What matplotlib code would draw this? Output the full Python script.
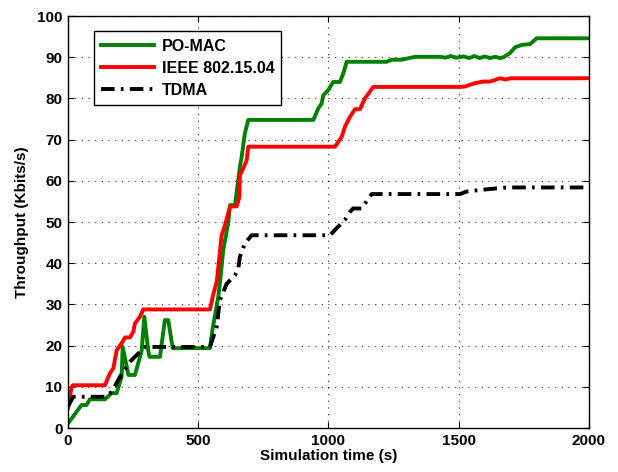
import matplotlib
matplotlib.use('Agg')
import matplotlib.pyplot as plt

plt.rcParams['font.family'] = ['Liberation Sans', 'DejaVu Sans']
plt.rcParams['font.weight'] = 'bold'

# values
pomac_t = [0, 52, 71, 84, 142, 168, 187, 206, 210, 232, 257, 270, 283, 293, 308, 313, 353,
           372, 385, 402, 545, 555, 577, 583, 596, 615, 622, 641, 660, 667, 679, 692, 942,
           961, 974, 980, 999, 1018, 1044, 1057, 1070, 1223, 1243, 1280, 1332, 1428, 1450,
           1470, 1490, 1520, 1540, 1560, 1580, 1600, 1620, 1640, 1660, 1671, 1697, 1716,
           1742, 1774, 1799, 2000]
pomac_y = [1.1, 5.6, 5.6, 7.0, 7.0, 8.5, 8.5, 12.5, 19.7, 12.9, 12.9, 15.8, 18.9, 27.0, 18.9,
           17.3, 17.3, 26.2, 26.2, 19.4, 19.4, 24.0, 31.9, 35.0, 43.2, 49.7, 54.1, 54.1, 63.4,
           65.9, 71.5, 74.8, 74.8, 77.6, 78.8, 80.8, 82.0, 84.0, 84.0, 86.1, 88.9, 88.9, 89.4,
           89.4, 90.1, 90.1, 89.9, 90.3, 89.9, 90.2, 89.8, 90.3, 89.8, 90.2, 89.8, 90.1, 89.8,
           90.0, 91.0, 92.4, 93.0, 93.2, 94.6, 94.6]

ieee_t = [0, 14, 20, 142, 161, 174, 187, 206, 219, 238, 251, 257, 276, 289, 545, 558, 571,
          590, 603, 615, 622, 648, 658, 660, 673, 686, 692, 1025, 1051, 1063, 1083, 1102,
          1121, 1140, 1172, 1505, 1524, 1556, 1569, 1595, 1620, 1640, 1658, 1680, 1700, 2000]
ieee_y = [4.9, 10.0, 10.4, 10.4, 13.3, 14.5, 18.9, 20.6, 22.0, 22.0, 23.4, 25.4, 27.0, 28.8,
          28.8, 32.5, 35.5, 46.8, 49.3, 52.1, 53.8, 53.8, 56.1, 61.4, 63.0, 65.0, 68.3, 68.3,
          70.7, 73.1, 75.6, 77.4, 77.4, 80.0, 82.8, 82.8, 82.9, 83.6, 83.8, 84.1, 84.1, 84.5,
          84.9, 84.6, 84.9, 84.9]

tdma_t = [0, 20, 142, 168, 200, 238, 276, 296, 545, 571, 583, 609, 641, 654, 660, 679, 705,
          1006, 1031, 1063, 1083, 1095, 1127, 1166, 1505, 1530, 1582, 1684, 2000]
tdma_y = [5.2, 7.6, 7.6, 8.8, 12.5, 16.1, 18.5, 19.7, 19.7, 24.6, 31.0, 35.0, 37.1, 38.8,
          41.6, 44.8, 46.8, 46.8, 48.5, 50.5, 52.5, 53.3, 53.3, 56.8, 56.8, 57.4, 57.8, 58.4,
          58.4]

labels = ['PO-MAC', 'IEEE 802.15.04', 'TDMA']

fig = plt.figure(figsize=(6.18, 4.72), dpi=100)
ax = fig.add_axes([0.110, 0.093, 0.843, 0.873])

ax.plot(pomac_t, pomac_y, color='#008000', lw=2.8, label=labels[0])
ax.plot(ieee_t, ieee_y, color='#ff0000', lw=2.8, label=labels[1])
ax.plot(tdma_t, tdma_y, color='black', lw=2.8, linestyle=(0, (3.5, 1.6, 0.7, 1.6)),
        label=labels[2])

ax.set_xlim(0, 2000)
ax.set_ylim(0, 100)
ax.set_xticks(range(0, 2001, 500))
ax.set_yticks(range(0, 101, 10))
ax.tick_params(direction='in', labelsize=11, length=4, top=True, right=True, pad=4)
for lab in ax.get_xticklabels() + ax.get_yticklabels():
    lab.set_fontweight('bold')
ax.grid(True, linestyle=(0, (1, 5)), color='#222222', lw=0.8)
for s in ax.spines.values():
    s.set_linewidth(1.0)

ax.set_xlabel('Simulation time (s)', fontsize=11, fontweight='bold', labelpad=1)
ax.set_ylabel('Throughput (Kbits/s)', fontsize=11, fontweight='bold', labelpad=6)

leg = ax.legend(loc='upper left', bbox_to_anchor=(0.034, 0.982),
                handlelength=3.3, handletextpad=0.5, labelspacing=0.45, borderpad=0.45,
                fancybox=False, framealpha=1, edgecolor='black',
                prop={'weight': 'bold', 'size': 11.5})
leg.get_frame().set_linewidth(1.0)

fig.savefig('out.png', dpi=100)
